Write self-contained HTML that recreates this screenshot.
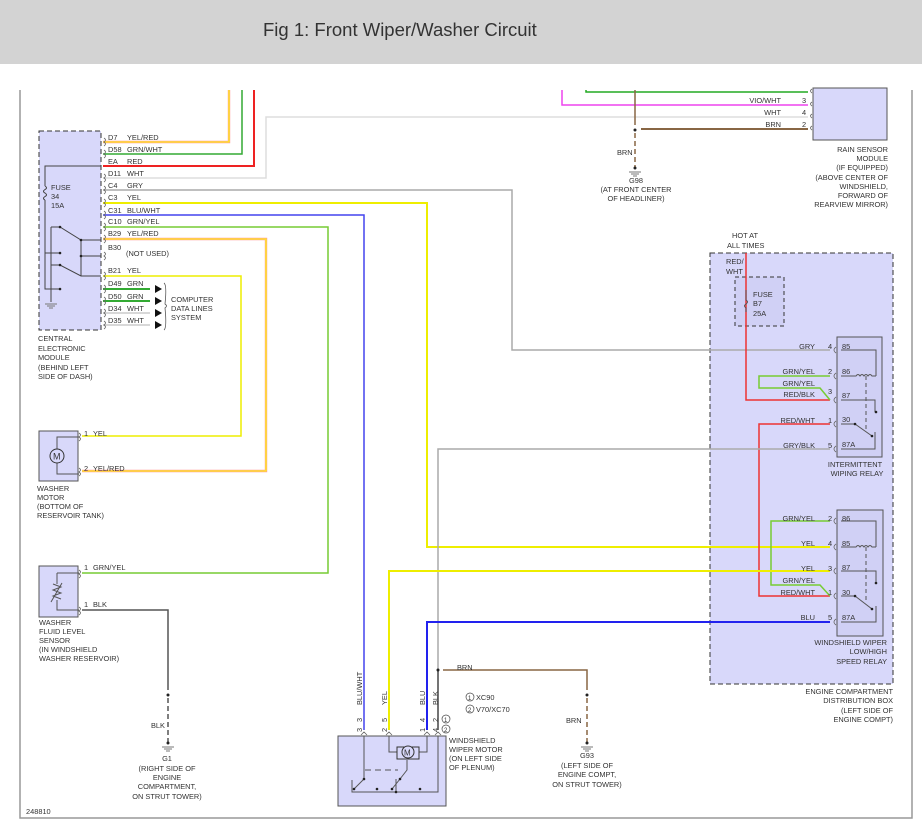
<!DOCTYPE html>
<html><head><meta charset="utf-8"><style>
html,body{margin:0;padding:0;background:#fff;}
svg{display:block;font-family:"Liberation Sans",sans-serif;}
.t{font-size:7.4px;fill:#333;}
</style></head><body>
<svg width="922" height="832" viewBox="0 0 922 832" xmlns="http://www.w3.org/2000/svg">
<rect x="0" y="0" width="922" height="64" fill="#d3d3d3"/>
<text x="263" y="36" font-size="18.5" fill="#333">Fig 1: Front Wiper/Washer Circuit</text>
<!-- frame -->
<path d="M20 90 V818 H912 V90" fill="none" stroke="#999" stroke-width="1.5"/>

<!-- boxes -->
<rect x="39" y="131" width="62" height="199" fill="#d8d8fa" stroke="#333" stroke-dasharray="5,3"/>
<rect x="813" y="88" width="74" height="52" fill="#d8d8fa" stroke="#555"/>
<rect x="710" y="253" width="183" height="431" fill="#d8d8fa" stroke="#333" stroke-dasharray="5,3"/>
<rect x="735" y="277" width="49" height="49" fill="#d0d0f5" stroke="#333" stroke-dasharray="4,3"/>
<rect x="837" y="337" width="45" height="120" fill="#d0d0f5" stroke="#555"/>
<rect x="837" y="510" width="46" height="126" fill="#d0d0f5" stroke="#555"/>
<rect x="338" y="736" width="108" height="70" fill="#d8d8fa" stroke="#555"/>
<rect x="39" y="431" width="39" height="50" fill="#d8d8fa" stroke="#555"/>
<rect x="39" y="566" width="39" height="51" fill="#d8d8fa" stroke="#555"/>

<g fill="none" stroke-width="1.5">
<!-- CEM wires -->
<path d="M103 142 H229 V90" stroke="#f99" stroke-width="2.4"/><path d="M103 142 H229 V90" stroke="#ff0" stroke-width="1.1"/>
<path d="M103 154 H242 V90" stroke="#3a3"/>
<path d="M103 166 H254 V90" stroke="#e22" stroke-width="2"/>
<path d="M103 178 H266 V117 H808" stroke="#ddd"/>
<path d="M103 190 H512 V350 H830" stroke="#aaa"/>
<path d="M103 203 H427 V547 H830" stroke="#ee0" stroke-width="2"/>
<path d="M103 215 H364 V730" stroke="#44e" stroke-width="1.5"/>
<path d="M103 227 H328 V573 H82" stroke="#7c3" stroke-width="1.5"/>
<path d="M103 239 H266 V471 H82" stroke="#f99" stroke-width="2.4"/><path d="M103 239 H266 V471 H82" stroke="#ff0" stroke-width="1.1"/>
<path d="M103 276 H241 V436 H82" stroke="#ee0" stroke-width="1.5"/>
<path d="M103 289 H150" stroke="#3a3" stroke-width="2"/>
<path d="M103 301 H150" stroke="#3a3" stroke-width="2"/>
<path d="M103 313 H150" stroke="#ccc"/>
<path d="M103 325 H150" stroke="#ccc"/>
<!-- rain sensor -->
<path d="M586 90 V92 H808" stroke="#2a2"/>
<path d="M562 90 V105 H808" stroke="#e4e"/>
<path d="M635 90 V125" stroke="#864" stroke-width="1.5"/>
<path d="M641 129 H808" stroke="#864" stroke-width="2"/>
<path d="M635 133 V168" stroke="#864" stroke-width="1.5" stroke-dasharray="5,3"/>
<!-- hot at all times -->
<path d="M746 253 V400 H830" stroke="#e33" stroke-width="1.5"/>
<path d="M830 376 H759 V388 H820 L830 400" stroke="#7c3"/>
<path d="M830 424 H759 V596 H830" stroke="#e33"/>
<path d="M830 449 H438 V730" stroke="#aaa"/>
<path d="M438 670 V730" stroke="#555"/>
<path d="M830 521 H771 V585 H820 L830 596" stroke="#7c3"/>
<path d="M830 571 H389 V730" stroke="#ee0" stroke-width="2"/>
<path d="M830 622 H427 V730" stroke="#22e" stroke-width="2"/>
<path d="M443 670 H587 V690" stroke="#864" stroke-width="1.5"/>
<path d="M587 698 V742" stroke="#864" stroke-width="1.5" stroke-dasharray="5,3"/>
<path d="M82 610 H168 V690" stroke="#555"/>
<path d="M168 698 V742" stroke="#555" stroke-dasharray="5,3"/>
</g>
<!-- dots -->
<g fill="#222"><circle cx="635" cy="130" r="1.5"/><circle cx="635" cy="168" r="1.5"/><circle cx="438" cy="670" r="1.5"/><circle cx="587" cy="695" r="1.5"/><circle cx="587" cy="743" r="1.5"/><circle cx="168" cy="695" r="1.5"/><circle cx="168" cy="743" r="1.5"/></g>
<!-- grounds -->
<g stroke="#777" stroke-width="1"><path d="M629 172 H641 M631 174 H639 M633 176 H637"/><path d="M581 747 H593 M583 749 H591 M585 751 H589"/><path d="M162 747 H174 M164 749 H172 M166 751 H170"/><path d="M45 304 H57 M47 306 H55 M49 308 H53"/></g>
<!-- data arrows -->
<g fill="#111"><path d="M155 285 L162 289 L155 293Z"/><path d="M155 297 L162 301 L155 305Z"/><path d="M155 309 L162 313 L155 317Z"/><path d="M155 321 L162 325 L155 329Z"/></g>
<path d="M164 283 Q167 285 165 304 Q168 306 165 308 Q167 328 164 330" fill="none" stroke="#555" stroke-width="0.8"/>
<!-- CEM internals -->
<g stroke="#444" fill="none" stroke-width="1">
<path d="M101 166 H45 V186 M45 200 V289 H60"/>
<path d="M45 186 q3 2 0 3.5 q-3 2 0 3.5 q3 2 0 3.5 q-3 2 0 3.5"/>
<path d="M51 227 V302 M51 227 H60 L81 240 H101 M45 253 H60 M81 256 H101 M51 265 H60 L81 276 H101 M81 240 V276"/>
</g>
<!-- connector ticks -->
<g stroke="#666" fill="none" stroke-width="0.8">
<path d="M104 138 q3 2 0 4 q3 2 0 4 M104 150 q3 2 0 4 q3 2 0 4 M104 174 q3 2 0 4 q3 2 0 4 M104 186 q3 2 0 4 q3 2 0 4 M104 199 q3 2 0 4 q3 2 0 4 M104 211 q3 2 0 4 q3 2 0 4 M104 223 q3 2 0 4 q3 2 0 4 M104 235 q3 2 0 4 q3 2 0 4 M104 252 q3 2 0 4 q3 2 0 4 M104 272 q3 2 0 4 q3 2 0 4 M104 285 q3 2 0 4 q3 2 0 4 M104 297 q3 2 0 4 q3 2 0 4 M104 309 q3 2 0 4 q3 2 0 4 M104 321 q3 2 0 4 q3 2 0 4"/>
<path d="M812 89 q-3 2 0 4 M812 102 q-3 2 0 4 M812 114 q-3 2 0 4 M812 126 q-3 2 0 4"/>
<path d="M836 347 q-4 3 0 6 M836 373 q-4 3 0 6 M836 397 q-4 3 0 6 M836 421 q-4 3 0 6 M836 446 q-4 3 0 6 M836 518 q-4 3 0 6 M836 544 q-4 3 0 6 M836 568 q-4 3 0 6 M836 593 q-4 3 0 6 M836 619 q-4 3 0 6"/>
<path d="M79 433 q3 2 0 4 q3 2 0 4 M79 468 q3 2 0 4 q3 2 0 4 M79 570 q3 2 0 4 q3 2 0 4 M79 607 q3 2 0 4 q3 2 0 4"/>
<path d="M361 735 l3 -3 l3 3 M386 735 l3 -3 l3 3 M424 735 l3 -3 l3 3 M435 735 l3 -3 l3 3"/>
</g>
<!-- relay internals -->
<g stroke="#555" fill="none" stroke-width="1">
<path d="M841 350 H876 V376 M841 376 H856 q2 -3 4 0 q2 -3 4 0 q2 -3 4 0 q2 -3 4 0 H876"/>
<path d="M866 376 V430" stroke-dasharray="4,3"/>
<path d="M841 400 H875 V412 M841 424 H855 L872 436 M875 432 V449 H841"/>
<path d="M841 521 H876 V547 M841 547 H856 q2 -3 4 0 q2 -3 4 0 q2 -3 4 0 q2 -3 4 0 H876"/>
<path d="M866 547 V603" stroke-dasharray="4,3"/>
<path d="M841 571 H876 V583 M841 596 H855 L872 609 M876 606 V622 H841"/>
<path d="M746 290 V300 q3 2 0 4 q-3 2 0 4 V312"/>
<path d="M57 449 V437 H79 M57 463 V474 H79" />
<path d="M57 573 H79 M57 573 V584 M57 600 V610 H79"/>
<path d="M53 584 L61 587 L53 590 L61 593 L53 596 L61 599 M51 602 L62 583"/>
<!-- motor internals -->
<path d="M364 736 V779 M389 736 V752 H398 M427 736 V752 H418 M438 736 V792 H352 V780 M364 779 L354 789 M400 779 L392 789 M396 779 V792"/>
<path d="M365 770 H398" stroke-dasharray="6,4"/>
<path d="M407 760 V770 L400 779"/>
</g>
<g fill="#222"><circle cx="81" cy="240" r="1.3"/><circle cx="81" cy="256" r="1.3"/><circle cx="60" cy="227" r="1.3"/><circle cx="60" cy="253" r="1.3"/><circle cx="60" cy="265" r="1.3"/><circle cx="60" cy="289" r="1.3"/><circle cx="855" cy="424" r="1.3"/><circle cx="872" cy="436" r="1.3"/><circle cx="876" cy="412" r="1.3"/><circle cx="855" cy="596" r="1.3"/><circle cx="872" cy="609" r="1.3"/><circle cx="876" cy="583" r="1.3"/><circle cx="364" cy="779" r="1.3"/><circle cx="354" cy="789" r="1.3"/><circle cx="377" cy="789" r="1.3"/><circle cx="400" cy="779" r="1.3"/><circle cx="392" cy="789" r="1.3"/><circle cx="420" cy="789" r="1.3"/><circle cx="396" cy="792" r="1.3"/></g>
<!-- motor symbols -->
<circle cx="57" cy="456" r="7" fill="#d8d8fa" stroke="#333"/><text x="53" y="459.5" font-size="9" fill="#333">M</text>
<rect x="397" y="747" width="22" height="12" fill="#d8d8fa" stroke="#333"/><circle cx="408" cy="752" r="6" fill="#d8d8fa" stroke="#333"/><text x="404" y="755.5" font-size="8" fill="#333">M</text>

<!-- labels -->
<g class="t">
<text x="108" y="140">D7</text><text x="127" y="140">YEL/RED</text>
<text x="108" y="152">D58</text><text x="127" y="152">GRN/WHT</text>
<text x="108" y="164">EA</text><text x="127" y="164">RED</text>
<text x="108" y="176">D11</text><text x="127" y="176">WHT</text>
<text x="108" y="188">C4</text><text x="127" y="188">GRY</text>
<text x="108" y="200">C3</text><text x="127" y="200">YEL</text>
<text x="108" y="213">C31</text><text x="127" y="213">BLU/WHT</text>
<text x="108" y="224">C10</text><text x="127" y="224">GRN/YEL</text>
<text x="108" y="236">B29</text><text x="127" y="236">YEL/RED</text>
<text x="108" y="250">B30</text><text x="126" y="256">(NOT USED)</text>
<text x="108" y="273">B21</text><text x="127" y="273">YEL</text>
<text x="108" y="286">D49</text><text x="127" y="286">GRN</text>
<text x="108" y="299">D50</text><text x="127" y="299">GRN</text>
<text x="108" y="311">D34</text><text x="127" y="311">WHT</text>
<text x="108" y="323">D35</text><text x="127" y="323">WHT</text>
<text x="51" y="190">FUSE</text><text x="51" y="199">34</text><text x="51" y="208">15A</text>
<text x="171" y="302">COMPUTER</text><text x="171" y="311">DATA LINES</text><text x="171" y="320">SYSTEM</text>
<text x="38" y="341">CENTRAL</text><text x="38" y="351">ELECTRONIC</text><text x="38" y="360">MODULE</text><text x="38" y="370">(BEHIND LEFT</text><text x="38" y="379">SIDE OF DASH)</text>
<text x="84" y="436">1</text><text x="93" y="436">YEL</text>
<text x="84" y="471">2</text><text x="93" y="471">YEL/RED</text>
<text x="37" y="491">WASHER</text><text x="37" y="500">MOTOR</text><text x="37" y="509">(BOTTOM OF</text><text x="37" y="518">RESERVOIR TANK)</text>
<text x="84" y="570">1</text><text x="93" y="570">GRN/YEL</text>
<text x="84" y="607">1</text><text x="93" y="607">BLK</text>
<text x="39" y="625">WASHER</text><text x="39" y="634">FLUID LEVEL</text><text x="39" y="643">SENSOR</text><text x="39" y="652">(IN WINDSHIELD</text><text x="39" y="661">WASHER RESERVOIR)</text>
<text x="151" y="728">BLK</text>
<g text-anchor="middle"><text x="167" y="761">G1</text><text x="167" y="771">(RIGHT SIDE OF</text><text x="167" y="780">ENGINE</text><text x="167" y="789">COMPARTMENT,</text><text x="167" y="799">ON STRUT TOWER)</text></g>
<text x="26" y="814">248810</text>
<text x="617" y="155">BRN</text>
<g text-anchor="middle"><text x="636" y="183">G98</text><text x="636" y="192">(AT FRONT CENTER</text><text x="636" y="201">OF HEADLINER)</text></g>
<g text-anchor="end"><text x="781" y="103">VIO/WHT</text><text x="781" y="115">WHT</text><text x="781" y="127">BRN</text>
<text x="888" y="152">RAIN SENSOR</text><text x="888" y="161">MODULE</text><text x="888" y="170">(IF EQUIPPED)</text><text x="888" y="180">(ABOVE CENTER OF</text><text x="888" y="189">WINDSHIELD,</text><text x="888" y="198">FORWARD OF</text><text x="888" y="207">REARVIEW MIRROR)</text></g>
<text x="802" y="103">3</text><text x="802" y="115">4</text><text x="802" y="127">2</text>
<text x="732" y="238">HOT AT</text><text x="727" y="248">ALL TIMES</text>
<text x="726" y="264">RED/</text><text x="726" y="274">WHT</text>
<text x="753" y="297">FUSE</text><text x="753" y="306">B7</text><text x="753" y="316">25A</text>
<g text-anchor="end"><text x="815" y="349">GRY</text><text x="815" y="374">GRN/YEL</text><text x="815" y="386">GRN/YEL</text><text x="815" y="397">RED/BLK</text><text x="815" y="423">RED/WHT</text><text x="815" y="448">GRY/BLK</text>
<text x="815" y="521">GRN/YEL</text><text x="815" y="546">YEL</text><text x="815" y="571">YEL</text><text x="815" y="583">GRN/YEL</text><text x="815" y="595">RED/WHT</text><text x="815" y="620">BLU</text></g>
<text x="828" y="349">4</text><text x="828" y="374">2</text><text x="828" y="394">3</text><text x="828" y="423">1</text><text x="828" y="448">5</text>
<text x="828" y="521">2</text><text x="828" y="546">4</text><text x="828" y="571">3</text><text x="828" y="595">1</text><text x="828" y="620">5</text>
<text x="842" y="349">85</text><text x="842" y="374">86</text><text x="842" y="398">87</text><text x="842" y="422">30</text><text x="842" y="447">87A</text>
<text x="842" y="521">86</text><text x="842" y="546">85</text><text x="842" y="570">87</text><text x="842" y="595">30</text><text x="842" y="620">87A</text>
<g text-anchor="middle"><text x="855" y="467">INTERMITTENT</text><text x="857" y="476">WIPING RELAY</text></g>
<g text-anchor="end"><text x="887" y="645">WINDSHIELD WIPER</text><text x="887" y="654">LOW/HIGH</text><text x="887" y="664">SPEED RELAY</text>
<text x="893" y="694">ENGINE COMPARTMENT</text><text x="893" y="703">DISTRIBUTION BOX</text><text x="893" y="713">(LEFT SIDE OF</text><text x="893" y="722">ENGINE COMPT)</text></g>
<text x="457" y="670">BRN</text>
<text x="566" y="723">BRN</text>
<g text-anchor="middle"><text x="587" y="758">G93</text><text x="587" y="768">(LEFT SIDE OF</text><text x="587" y="777">ENGINE COMPT,</text><text x="587" y="787">ON STRUT TOWER)</text></g>
<text x="449" y="743">WINDSHIELD</text><text x="449" y="752">WIPER MOTOR</text><text x="449" y="761">(ON LEFT SIDE</text><text x="449" y="770">OF PLENUM)</text>
<circle cx="470" cy="697" r="4" fill="none" stroke="#444" stroke-width="0.7"/><text x="468" y="700" font-size="6">1</text><text x="476" y="700">XC90</text>
<circle cx="470" cy="709" r="4" fill="none" stroke="#444" stroke-width="0.7"/><text x="468" y="712" font-size="6">2</text><text x="476" y="712">V70/XC70</text>
<circle cx="446" cy="719" r="4" fill="none" stroke="#444" stroke-width="0.7"/><text x="444" y="722" font-size="6">1</text>
<circle cx="446" cy="729" r="4" fill="none" stroke="#444" stroke-width="0.7"/><text x="444" y="732" font-size="6">2</text>
<text transform="translate(362,705) rotate(-90)">BLU/WHT</text>
<text transform="translate(387,705) rotate(-90)">YEL</text>
<text transform="translate(425,705) rotate(-90)">BLU</text>
<text transform="translate(438,705) rotate(-90)">BLK</text>
<text transform="translate(362,722) rotate(-90)">3</text><text transform="translate(362,732) rotate(-90)">3</text>
<text transform="translate(387,722) rotate(-90)">5</text><text transform="translate(387,732) rotate(-90)">2</text>
<text transform="translate(425,722) rotate(-90)">4</text><text transform="translate(425,732) rotate(-90)">1</text>
<text transform="translate(438,722) rotate(-90)">2</text><text transform="translate(438,732) rotate(-90)">4</text>
</g>
</svg>
</body></html>
